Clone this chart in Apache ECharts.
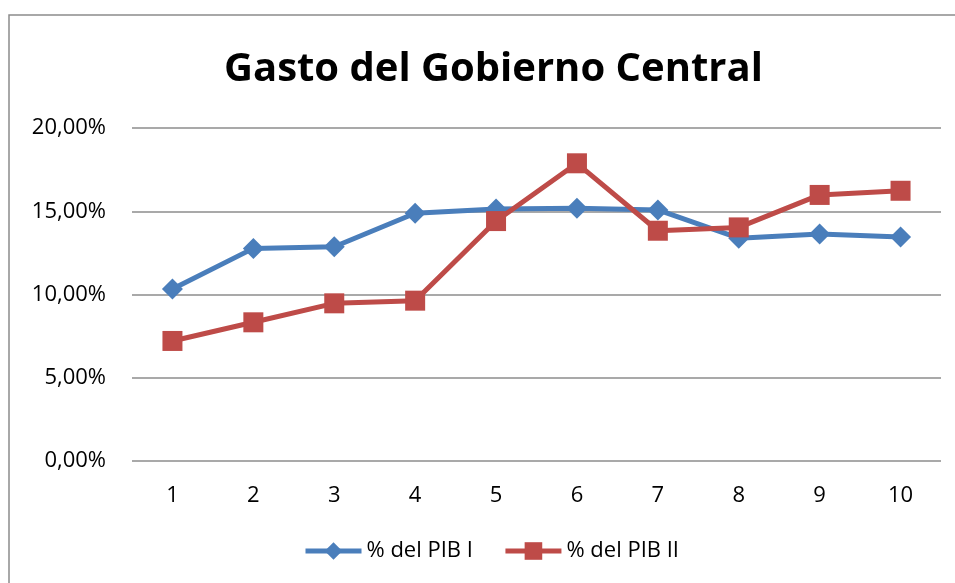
<!DOCTYPE html>
<html><head><meta charset="utf-8">
<script src="https://cdn.jsdelivr.net/npm/echarts@6/dist/echarts.min.js"></script>
<style>html,body{margin:0;padding:0;background:#fff}#c{width:955px;height:583px}</style>
</head><body><div id="c"></div>
<script>
const categories = ['1','2','3','4','5','6','7','8','9','10'];
const pibI = [10.33, 12.77, 12.87, 14.88, 15.14, 15.18, 15.08, 13.38, 13.63, 13.45];
const pibII = [7.21, 8.33, 9.47, 9.63, 14.41, 17.88, 13.83, 14.03, 15.98, 16.23];
const seriesNames = ['% del PIB I', '% del PIB II'];
const yTicks = {min: 0, max: 20, interval: 5};

const chart = echarts.init(document.getElementById('c'), null, {renderer: 'canvas'});
const font = 'Open Sans';
chart.setOption({
  animation: false,
  title: {
    text: 'Gasto del Gobierno Central', left: 219, top: 45,
    textStyle: {fontFamily: font, fontWeight: 'bold', fontSize: 40, color: '#000'}
  },
  graphic: [{type: 'rect', shape: {x: 9, y: 15, width: 960, height: 600},
    style: {fill: 'none', stroke: '#8c8c8c', lineWidth: 1.5}, silent: true, z: -1}],
  legend: {
    bottom: 16, left: 298, itemGap: 30, itemWidth: 56, itemHeight: 22,
    lineStyle: {width: 5},
    textStyle: {fontFamily: font, fontSize: 22, color: '#000'},
    data: seriesNames
  },
  grid: {left: 132, right: 14, top: 128, bottom: 122},
  xAxis: {
    type: 'category', data: categories, boundaryGap: true,
    axisLine: {show: false}, axisTick: {show: false},
    axisLabel: {fontFamily: font, fontSize: 22, color: '#000', margin: 24}
  },
  yAxis: {
    type: 'value', min: yTicks.min, max: yTicks.max, interval: yTicks.interval,
    axisLine: {show: false}, axisTick: {show: false},
    splitLine: {lineStyle: {color: '#8c8c8c', width: 1.5}},
    axisLabel: {fontFamily: font, fontSize: 22, color: '#000', margin: 26,
      formatter: v => v.toFixed(2).replace('.', ',') + '%'}
  },
  series: [
    {name: seriesNames[0], type: 'line', data: pibI, symbol: 'diamond', symbolSize: 21,
      lineStyle: {color: '#4a7ebb', width: 5}, itemStyle: {color: '#4a7ebb'}},
    {name: seriesNames[1], type: 'line', data: pibII, symbol: 'rect', symbolSize: 20,
      lineStyle: {color: '#be4b48', width: 5}, itemStyle: {color: '#be4b48'}}
  ]
});
</script></body></html>
